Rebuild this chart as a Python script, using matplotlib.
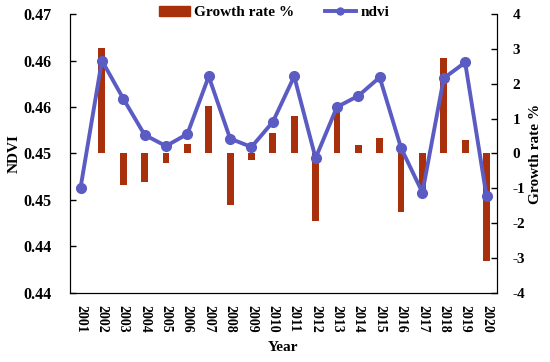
import matplotlib
matplotlib.use("Agg")
import matplotlib.pyplot as plt
from matplotlib.lines import Line2D
from matplotlib.patches import Patch

years = [str(y) for y in range(2001, 2021)]
ndvi = [0.4513, 0.4650, 0.4609, 0.4570, 0.4558, 0.4571, 0.4633, 0.4566, 0.4557, 0.4584,
        0.4633, 0.4545, 0.4600, 0.4612, 0.4632, 0.4556, 0.4508, 0.4631, 0.4648, 0.4504]
growth = [0.0, 3.03, -0.90, -0.83, -0.27, 0.27, 1.36, -1.47, -0.19, 0.60,
          1.07, -1.95, 1.20, 0.24, 0.45, -1.67, -1.13, 2.74, 0.39, -3.10]
ndvi_ticks = [0.44, 0.445, 0.45, 0.455, 0.46, 0.465, 0.47]
ndvi_tick_labels = ["0.44", "0.44", "0.45", "0.45", "0.46", "0.46", "0.47"]
growth_ticks = [-4, -3, -2, -1, 0, 1, 2, 3, 4]

plt.rcParams['font.family'] = ['Liberation Serif', 'DejaVu Serif']
plt.rcParams['font.weight'] = 'bold'

fig = plt.figure(figsize=(5.5, 3.62), dpi=100)
ax = fig.add_axes([0.127, 0.191, 0.777, 0.770])
ax2 = ax.twinx()

x = list(range(len(years)))
bar_color = "#A8300C"
line_color = "#5B5BC4"

ax2.bar(x, growth, width=0.32, color=bar_color, zorder=2)
ax2.set_ylim(-4, 4)
ax2.set_yticks(growth_ticks)
ax2.set_yticklabels([str(t) for t in growth_ticks], fontsize=11, fontweight='bold')
ax2.set_ylabel("Growth rate %", fontsize=11, fontweight='bold', labelpad=3)

ax.plot(x, ndvi, color=line_color, lw=2.8, marker='o', markersize=7,
        markerfacecolor=line_color, markeredgecolor=line_color, zorder=3)
ax.set_ylim(0.44, 0.47)
ax.set_yticks(ndvi_ticks)
ax.set_yticklabels(ndvi_tick_labels, fontsize=11.5, fontweight='bold')
ax.set_ylabel("NDVI", fontsize=11, fontweight='bold', labelpad=2)
ax.set_xlim(-0.5, len(years) - 0.5)
ax.set_xticks(x)
ax.set_xticklabels(years, rotation=270, fontsize=10, fontweight='bold')
ax.set_xlabel("Year", fontsize=11, fontweight='bold', labelpad=6)

ax.set_zorder(ax2.get_zorder() + 1)
ax.patch.set_visible(False)

for a in (ax, ax2):
    a.spines['top'].set_visible(False)
    a.tick_params(axis='y', direction='in', length=4, width=1)
ax.tick_params(axis='y', pad=13)
ax.tick_params(axis='x', length=0, pad=9)
ax2.tick_params(axis='y', pad=11)

handles = [Patch(color=bar_color),
           Line2D([0], [0], color=line_color, lw=2.8, marker='o', markersize=5)]
ax.legend(handles, ["Growth rate %", "ndvi"], ncol=2, frameon=False,
          loc='upper center', bbox_to_anchor=(0.478, 1.08),
          prop={'weight': 'bold', 'size': 11}, handlelength=2.0, columnspacing=2.0,
          handletextpad=0.3)

fig.savefig("out.png", dpi=100)
